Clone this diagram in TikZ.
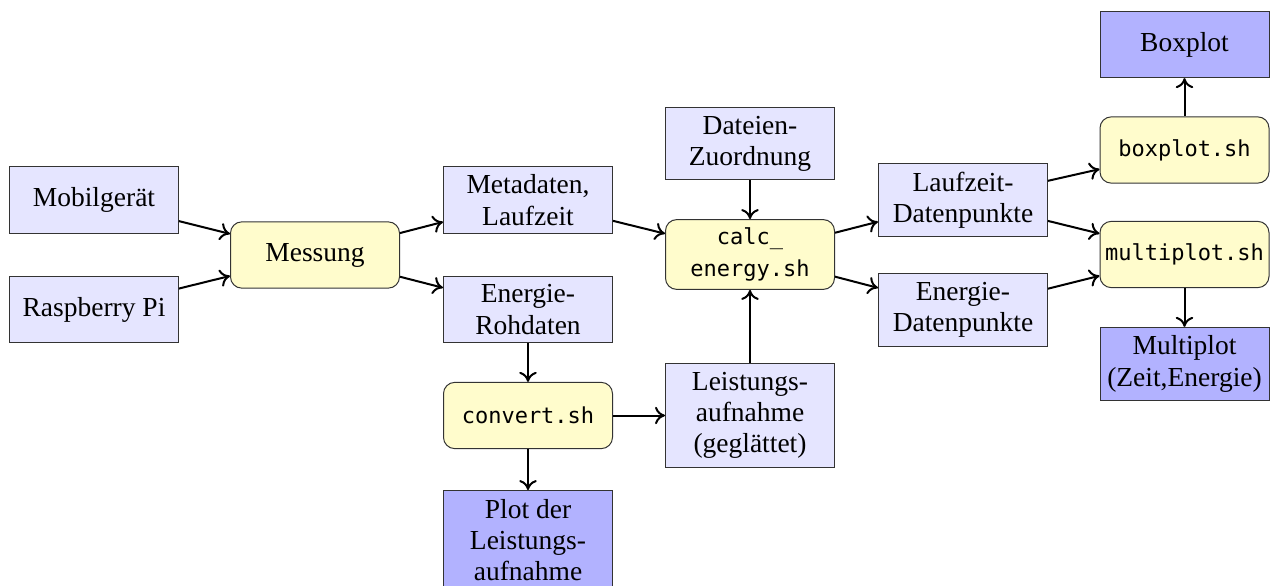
\documentclass[tikz,border=0pt]{standalone}
\usepackage{fontspec}
\setmainfont{Liberation Serif}
\setmonofont{DejaVu Sans Mono}[Scale=0.8]
\usetikzlibrary{arrows.meta}

\begin{document}
\begin{tikzpicture}
  [x=0.4pt, y=-0.4pt,
   every node/.style={draw=black!80, align=center, inner xsep=2pt, inner ysep=3.4pt,
                      font=\fontsize{11pt}{12.5pt}\selectfont,
                      minimum width=67.6pt, minimum height=26.5pt},
   daten/.style={fill=blue!10},
   skript/.style={fill=yellow!20, rounded corners=4.5pt},
   ergebnis/.style={fill=blue!30},
   pfeil/.style={-{To[length=4pt,width=7pt]}, thick}]
  \useasboundingbox (0,0) rectangle (1273,586);
  % Messung
  \node [daten] (mobil) at (94,200) {Mobilgerät};
  \node [daten] (raspi) at (94,309.5) {Raspberry Pi};
  \node [skript] (messung) at (315,255) {Messung};
  \node [daten] (meta) at (528,200) {Metadaten,\\Laufzeit};
  \node [daten] (roh) at (528,309.5) {Energie-\\Rohdaten};
  \node [skript] (convert) at (528,415.5) {\texttt{convert.sh}};
  \node [ergebnis] (plotleistung) at (528,540) {Plot der\\Leistungs-\\aufnahme};
  % Auswertung
  \node [daten] (zuordnung) at (750,143.5) {Dateien-\\Zuordnung};
  \node [skript] (calc) at (750,254.5) {\texttt{calc\_}\\\texttt{energy.sh}};
  \node [daten] (leistung) at (750,415.5) {Leistungs-\\aufnahme\\(geglättet)};
  \node [daten] (laufdp) at (963,200) {Laufzeit-\\Datenpunkte};
  \node [daten] (energiedp) at (963,310) {Energie-\\Datenpunkte};
  % Plots
  \node [ergebnis] (boxplot) at (1184.5,44.5) {Boxplot};
  \node [skript] (boxsh) at (1184.5,150) {\texttt{boxplot.sh}};
  \node [skript] (multish) at (1184.5,254.5) {\texttt{multiplot.sh}};
  \node [ergebnis] (multiplot) at (1184.5,364) {Multiplot\\(Zeit,Energie)};

  \draw [pfeil] (mobil) -- (messung);
  \draw [pfeil] (raspi) -- (messung);
  \draw [pfeil] (messung) -- (meta);
  \draw [pfeil] (messung) -- (roh);
  \draw [pfeil] (roh) -- (convert);
  \draw [pfeil] (convert) -- (plotleistung);
  \draw [pfeil] (convert) -- (leistung);
  \draw [pfeil] (leistung) -- (calc);
  \draw [pfeil] (meta) -- (calc);
  \draw [pfeil] (zuordnung) -- (calc);
  \draw [pfeil] (calc) -- (laufdp);
  \draw [pfeil] (calc) -- (energiedp);
  \draw [pfeil] (laufdp) -- (boxsh);
  \draw [pfeil] (laufdp) -- (multish);
  \draw [pfeil] (energiedp) -- (multish);
  \draw [pfeil] (boxsh) -- (boxplot);
  \draw [pfeil] (multish) -- (multiplot);
\end{tikzpicture}
\end{document}
